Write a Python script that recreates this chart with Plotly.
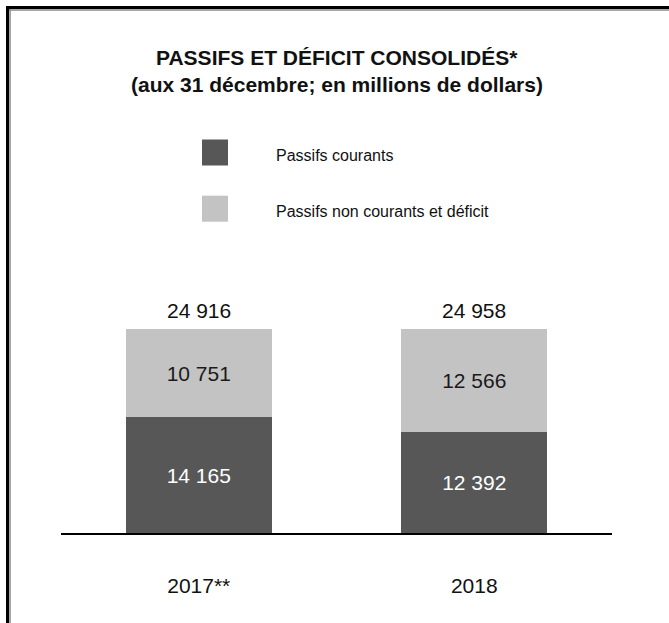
import plotly.graph_objects as go

# Data (millions of dollars, at December 31)
years = ["2017**", "2018"]
current_liabilities = [14165, 12392]
noncurrent_and_deficit = [10751, 12566]
series_names = ["Passifs courants", "Passifs non courants et déficit"]
title_lines = ["PASSIFS ET DÉFICIT CONSOLIDÉS*",
               "(aux 31 décembre; en millions de dollars)"]

DARK = "#575757"
LIGHT = "#c3c3c3"
FONT = "Liberation Sans, Arial, sans-serif"

W, H = 669, 623
L, R, T, B = 61, 57, 300, 90
PW, PH = W - L - R, H - T - B


def px_x(x):
    return (x - L) / PW


def px_y(y):
    return (H - B - y) / PH


totals = [a + b for a, b in zip(current_liabilities, noncurrent_and_deficit)]


def fmt(v):
    return f"{v:,}".replace(",", " ")


fig = go.Figure()
fig.add_trace(go.Bar(
    x=years, y=current_liabilities, name=series_names[0],
    marker=dict(color=DARK, line=dict(width=0)),
    texttemplate="%{y:,.0f}", textposition="inside",
    insidetextanchor="middle",
    textfont=dict(family=FONT, size=21, color="white"),
    width=0.53, showlegend=False,
))
fig.add_trace(go.Bar(
    x=years, y=noncurrent_and_deficit, name=series_names[1],
    marker=dict(color=LIGHT, line=dict(width=0)),
    texttemplate="%{y:,.0f}", textposition="inside",
    insidetextanchor="middle",
    textfont=dict(family=FONT, size=21, color="#1a1a1a"),
    width=0.53, showlegend=False,
))

annotations = []
# Totals above each stack (x given as category index)
for i, tot in enumerate(totals):
    annotations.append(dict(
        x=i, y=tot, xref="x", yref="y", text=fmt(tot), showarrow=False,
        yanchor="middle", yshift=19,
        font=dict(family=FONT, size=21, color="#111"),
    ))

# Title
for line, cy in zip(title_lines, [57.5, 84.5]):
    annotations.append(dict(
        x=px_x(337), y=px_y(cy), xref="paper", yref="paper",
        text=f"<b>{line}</b>", showarrow=False,
        xanchor="center", yanchor="middle",
        font=dict(family=FONT, size=21, color="#111"),
    ))

# Legend: swatches and labels
shapes = []
for name, col, top in zip(series_names, [DARK, LIGHT], [139.5, 195.7]):
    shapes.append(dict(
        type="rect", xref="paper", yref="paper",
        x0=px_x(202), x1=px_x(228), y0=px_y(top + 26), y1=px_y(top),
        fillcolor=col, line=dict(width=0),
    ))
    annotations.append(dict(
        x=px_x(274), y=px_y(top + 15.5), xref="paper", yref="paper",
        text=name, showarrow=False, xanchor="left", yanchor="middle",
        font=dict(family=FONT, size=16, color="#111"),
    ))

# Frame: top and left edges with a soft shadow
shapes += [
    dict(type="line", xref="paper", yref="paper",
         x0=px_x(9), x1=px_x(W), y0=px_y(10), y1=px_y(10),
         line=dict(color="#8a8a8a", width=1.5)),
    dict(type="line", xref="paper", yref="paper",
         x0=px_x(10), x1=px_x(10), y0=px_y(9), y1=px_y(H),
         line=dict(color="#8a8a8a", width=1.5)),
    dict(type="line", xref="paper", yref="paper",
         x0=px_x(6), x1=px_x(W), y0=px_y(7.5), y1=px_y(7.5),
         line=dict(color="black", width=3)),
    dict(type="line", xref="paper", yref="paper",
         x0=px_x(7.5), x1=px_x(7.5), y0=px_y(6), y1=px_y(H),
         line=dict(color="black", width=3)),
]

fig.update_layout(
    width=W, height=H,
    margin=dict(l=L, r=R, t=T, b=B, pad=0),
    paper_bgcolor="white", plot_bgcolor="white",
    barmode="stack", separators=", ",
    font=dict(family=FONT, color="#111"),
    annotations=annotations, shapes=shapes,
    showlegend=False,
)
fig.update_xaxes(
    type="category",
    showline=True, linecolor="black", linewidth=2,
    showgrid=False, zeroline=False, ticks="",
    tickfont=dict(family=FONT, size=21, color="#111"),
    ticklabelstandoff=33, range=[-0.5, 1.5],
)
fig.update_yaxes(
    visible=False, range=[0, 28507], showgrid=False, zeroline=False,
)

fig.write_html("out.html")
